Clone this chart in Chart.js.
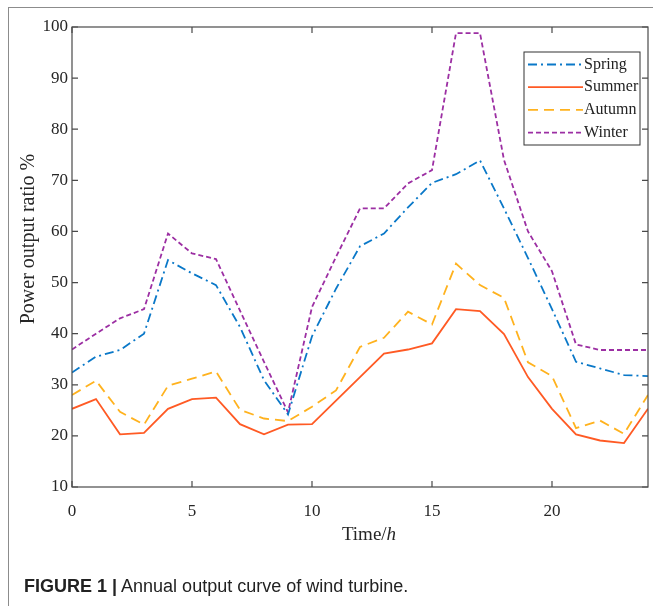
<!DOCTYPE html>
<html>
<head>
<meta charset="utf-8">
<script src="https://cdn.jsdelivr.net/npm/chart.js@4.4.1/dist/chart.umd.min.js"></script>
<style>
  html, body { margin: 0; padding: 0; background: #fff; }
  #wrap { position: relative; width: 653px; height: 606px; overflow: hidden; }
  #frame { position: absolute; left: 8px; top: 7px; width: 700px; height: 700px; border: 1px solid #8c8c8c; }
  #box { position: absolute; left: 0; top: 0; width: 653px; height: 606px; }
  #caption { position: absolute; left: 24px; top: 576px; font: 18px "Liberation Sans", Arial, sans-serif; color: #222; white-space: nowrap; }
  #caption b { font-weight: bold; }
</style>
</head>
<body>
<div id="wrap">
  <div id="frame"></div>
  <div id="box"><canvas id="windChart"></canvas></div>
  <div id="caption"><b>FIGURE 1 |</b> Annual output curve of wind turbine.</div>
</div>
<script>
// hours of the day
const hours = [0, 1, 2, 3, 4, 5, 6, 7, 8, 9, 10, 11, 12, 13, 14, 15, 16, 17, 18, 19, 20, 21, 22, 23, 24];

// power output ratio (%) per season
const spring = [32.4, 35.5, 36.8, 40.0, 54.4, 51.8, 49.5, 41.3, 30.9, 24.2, 39.5, 48.8, 57.1, 59.6, 64.7, 69.5, 71.2, 73.9, 64.5, 54.8, 44.8, 34.5, 33.2, 31.9, 31.7];
const summer = [25.3, 27.2, 20.3, 20.6, 25.3, 27.2, 27.5, 22.3, 20.3, 22.2, 22.3, 26.9, 31.5, 36.1, 36.9, 38.1, 44.8, 44.4, 39.9, 31.5, 25.3, 20.3, 19.1, 18.6, 25.3];
const autumn = [28.0, 30.8, 24.7, 22.2, 29.8, 31.2, 32.6, 25.1, 23.4, 22.9, 25.7, 28.9, 37.4, 39.2, 44.3, 41.8, 53.7, 49.5, 47.0, 34.4, 31.7, 21.5, 23.0, 20.4, 28.0];
const winter = [36.9, 40.0, 43.0, 44.8, 59.6, 55.7, 54.6, 44.5, 34.5, 24.6, 45.2, 55.0, 64.5, 64.5, 69.4, 72.0, 98.8, 98.8, 74.0, 60.0, 52.2, 37.9, 36.8, 36.8, 36.8];

const seasonNames = ["Spring", "Summer", "Autumn", "Winter"];
const seasonColors = ["#0a78c8", "#ff5a24", "#ffb21e", "#9c2fa3"];
const seasonDashes = [[9, 4, 2, 4], [], [10, 6], [5, 3]];

const xTicks = [0, 5, 10, 15, 20];
const yTicks = [10, 20, 30, 40, 50, 60, 70, 80, 90, 100];

const serif = '"Liberation Serif", "Times New Roman", serif';

function toPoints(values) {
  return values.map((v, i) => ({ x: hours[i], y: v }));
}

// MATLAB style box with inward ticks, axis titles and the boxed legend
const matlabFrame = {
  id: "matlabFrame",
  afterDraw(chart) {
    const ctx = chart.ctx;
    const a = chart.chartArea;
    const xs = chart.scales.x;
    const ys = chart.scales.y;
    ctx.save();
    ctx.strokeStyle = "#4a4a4a";
    ctx.lineWidth = 1.2;
    ctx.strokeRect(a.left, a.top, a.right - a.left, a.bottom - a.top);
    ctx.beginPath();
    xTicks.forEach(t => {
      const px = xs.getPixelForValue(t);
      ctx.moveTo(px, a.bottom); ctx.lineTo(px, a.bottom - 6);
      ctx.moveTo(px, a.top); ctx.lineTo(px, a.top + 6);
    });
    yTicks.forEach(t => {
      const py = ys.getPixelForValue(t);
      ctx.moveTo(a.left, py); ctx.lineTo(a.left + 6, py);
      ctx.moveTo(a.right, py); ctx.lineTo(a.right - 6, py);
    });
    ctx.stroke();

    // axis titles
    ctx.fillStyle = "#262626";
    ctx.font = "20px " + serif;
    ctx.textBaseline = "middle";
    ctx.textAlign = "center";
    ctx.save();
    ctx.translate(29, 239);
    ctx.rotate(-Math.PI / 2);
    ctx.fillText("Power output ratio %", 0, 0);
    ctx.restore();

    ctx.font = "19px " + serif;
    const part1 = "Time/";
    const w1 = ctx.measureText(part1).width;
    ctx.font = "italic 19px " + serif;
    const w2 = ctx.measureText("h").width;
    const cx = 369 - (w1 + w2) / 2;
    ctx.textAlign = "left";
    ctx.font = "19px " + serif;
    ctx.fillText(part1, cx, 535);
    ctx.font = "italic 19px " + serif;
    ctx.fillText("h", cx + w1, 535);

    // legend
    const bx = a.right - 124, by = a.top + 25, bw = 116, bh = 93;
    ctx.fillStyle = "#fff";
    ctx.fillRect(bx, by, bw, bh);
    ctx.strokeStyle = "#333";
    ctx.lineWidth = 1;
    ctx.strokeRect(bx, by, bw, bh);
    ctx.font = "16px " + serif;
    ctx.textBaseline = "middle";
    chart.data.datasets.forEach((ds, i) => {
      const ly = by + 12.5 + i * 22.7;
      ctx.beginPath();
      ctx.strokeStyle = ds.borderColor;
      ctx.lineWidth = 1.8;
      ctx.setLineDash(ds.borderDash);
      ctx.moveTo(bx + 4, ly);
      ctx.lineTo(bx + 59, ly);
      ctx.stroke();
      ctx.setLineDash([]);
      ctx.fillStyle = "#222";
      ctx.fillText(ds.label, bx + 60, ly);
    });
    ctx.restore();
  }
};

const myChart = new Chart(document.getElementById("windChart").getContext("2d"), {
  type: "line",
  data: {
    datasets: [spring, summer, autumn, winter].map((vals, i) => ({
      label: seasonNames[i],
      data: toPoints(vals),
      borderColor: seasonColors[i],
      borderDash: seasonDashes[i],
      borderWidth: 1.8,
      pointRadius: 0,
      tension: 0,
      fill: false,
    })),
  },
  options: {
    responsive: true,
    maintainAspectRatio: false,
    animation: false,
    layout: { padding: { top: 27, right: 5, left: 0, bottom: 0 } },
    plugins: {
      legend: { display: false },
      tooltip: { enabled: false },
    },
    scales: {
      x: {
        type: "linear",
        min: 0,
        max: 24,
        afterFit: s => { s.height = 119; },
        afterBuildTicks: s => { s.ticks = xTicks.map(v => ({ value: v })); },
        grid: { display: false, drawTicks: false },
        border: { display: false },
        ticks: { padding: 14, color: "#262626", font: { family: serif, size: 17 } },
      },
      y: {
        min: 10,
        max: 100,
        afterFit: s => { s.width = 72; },
        afterBuildTicks: s => { s.ticks = yTicks.map(v => ({ value: v })); },
        grid: { display: false, drawTicks: false },
        border: { display: false },
        ticks: { padding: 4, color: "#262626", font: { family: serif, size: 17 } },
      },
    },
  },
  plugins: [matlabFrame],
});
</script>
</body>
</html>
